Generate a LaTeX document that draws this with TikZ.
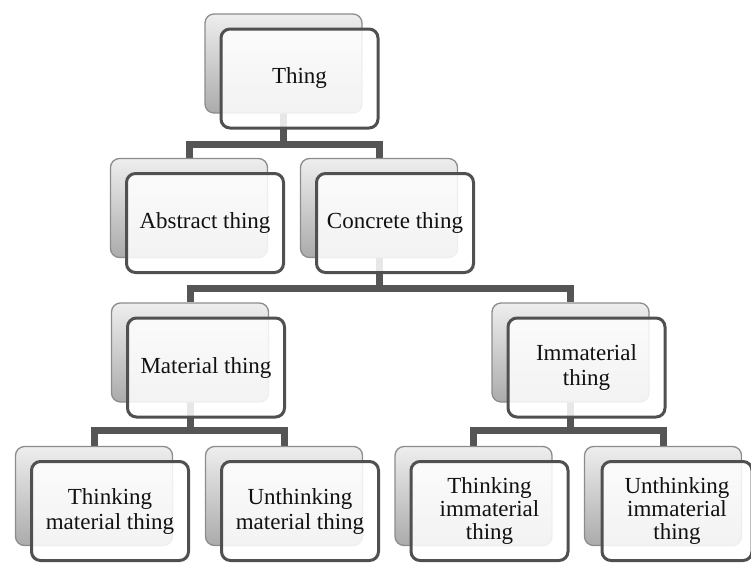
\documentclass[tikz,border=0pt]{standalone}
\usepackage{fontspec}
\setmainfont{Liberation Serif}
\pgfdeclarelayer{bg}
\pgfsetlayers{bg,main}
\definecolor{frontline}{HTML}{505050}
\definecolor{backline}{HTML}{8C8C8C}
\definecolor{backtop}{HTML}{EEEEEE}
\definecolor{backbot}{HTML}{ABABAB}
\definecolor{connline}{HTML}{555555}
\definecolor{textcol}{HTML}{111111}
\tikzset{
  backbox/.style={draw=backline, line width=1.3pt, rounded corners=9pt,
    top color=backtop, bottom color=backbot,
    minimum width=157pt, minimum height=99pt, inner sep=0pt},
  frontbox/.style={draw=frontline, line width=3pt, rounded corners=9pt,
    fill=white, fill opacity=0.86, text opacity=1,
    minimum width=157pt, minimum height=99pt, inner sep=0pt,
    align=center, text=textcol, font=\fontsize{23}{25}\selectfont},
  conn/.style={draw=connline, line width=7pt, line join=miter}
}
\begin{document}
\begin{tikzpicture}[x=1pt,y=-1pt]
\useasboundingbox (0,0) rectangle (751,562);
% back boxes
\node[backbox] (thingB) at (283.5,63.5) {};
\node[backbox] (abstractB) at (189,208) {};
\node[backbox] (concreteB) at (379,208) {};
\node[backbox] (materialB) at (190,352.5) {};
\node[backbox] (immaterialB) at (570.5,352.5) {};
\node[backbox] (tmatB) at (94,496) {};
\node[backbox] (umatB) at (284,496) {};
\node[backbox] (timmB) at (473.5,496) {};
\node[backbox] (uimmB) at (663,496) {};
% front boxes
\node[frontbox] (thing) at (299.5,78.5) {Thing};
\node[frontbox] (abstract) at (205,223) {Abstract thing};
\node[frontbox] (concrete) at (395,223) {Concrete thing};
\node[frontbox] (material) at (206,367.5) {Material thing};
\node[frontbox] (immaterial) at (586.5,367.5) {Immaterial\\thing};
\node[frontbox] (tmat) at (110,511) {Thinking\\material thing};
\node[frontbox] (umat) at (300,511) {Unthinking\\material thing};
\node[frontbox, font=\fontsize{23}{23}\selectfont] (timm) at (489.5,511) {Thinking\\immaterial\\thing};
\node[frontbox, minimum width=150pt, font=\fontsize{23}{23}\selectfont] (uimm) at (677,511) {Unthinking\\immaterial\\thing};
% connectors
\coordinate (barA) at (0,144);
\coordinate (barB) at (0,288);
\coordinate (barC) at (0,430);
\begin{pgfonlayer}{bg}
\draw[conn] (thingB.center) -- (thingB.center |- barA) -| (abstractB.north);
\draw[conn] (thingB.center |- barA) -| (concreteB.north);
\draw[conn] (concreteB.center) -- (concreteB.center |- barB) -| (materialB.north);
\draw[conn] (concreteB.center |- barB) -| (immaterialB.north);
\draw[conn] (materialB.center) -- (materialB.center |- barC) -| (tmatB.north);
\draw[conn] (materialB.center |- barC) -| (umatB.north);
\draw[conn] (immaterialB.center) -- (immaterialB.center |- barC) -| (timmB.north);
\draw[conn] (immaterialB.center |- barC) -| (uimmB.north);
\end{pgfonlayer}
\end{tikzpicture}
\end{document}
